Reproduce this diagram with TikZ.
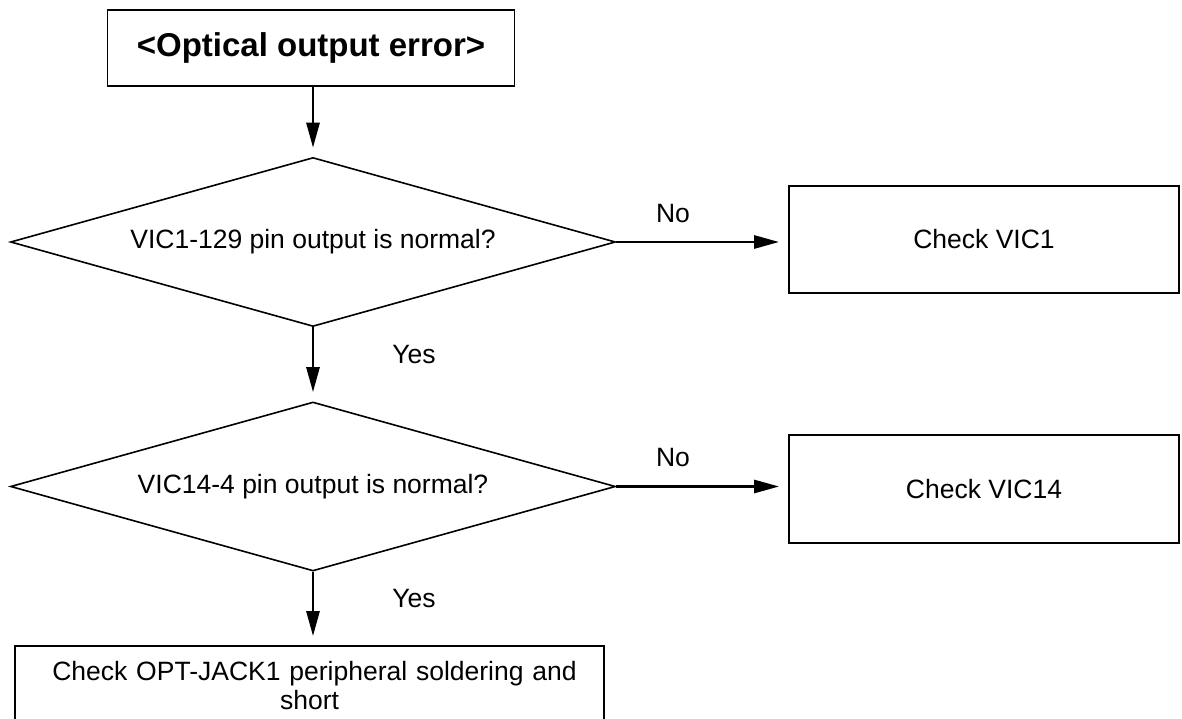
\documentclass[tikz,border=0pt]{standalone}
\usepackage{fontspec}
\setmainfont{Liberation Sans}
\usetikzlibrary{arrows.meta, positioning, shapes.geometric}

\begin{document}
\begin{tikzpicture}[
        x=1pt, y=-1pt,
        font=\fontsize{26.5}{29}\selectfont,
        box/.style={draw, line width=1.8pt, inner sep=0pt, align=center},
        decide/.style={draw, diamond, aspect=3.58, line width=1.6pt, inner sep=0pt, minimum width=605pt, minimum height=169pt},
        flow/.style={-{Triangle[length=25pt, width=13pt]}, line width=2.8pt, shorten >=9pt},
        lbl/.style={inner sep=0pt}
    ]
        \useasboundingbox (0,0) rectangle (1182,719);

        \node[box, minimum width=407pt, minimum height=76pt, font=\fontsize{33}{38}\selectfont\bfseries] (title) at (311,48) {<Optical output error>};
        \node[decide] (q1) at (313,242) {VIC1-129 pin output is normal?};
        \node[box, minimum width=390pt, minimum height=107pt] (chk1) at (984,239.5) {Check VIC1};
        \node[decide] (q2) at (313,486.5) {VIC14-4 pin output is normal?};
        \node[box, minimum width=390pt, minimum height=108pt] (chk14) at (984,489) {Check VIC14};
        \node[box, minimum width=589pt, minimum height=80pt, text width=570pt] (jack) at (309.5,686) {\hspace*{10pt}Check OPT-JACK1 peripheral soldering and\\short};

        \draw[flow] (title.south -| q1.north) -- (q1.north);
        \draw[flow] (q1.east) -- (q1.east -| chk1.west) node[lbl, pos=.33, above=18pt] {No};
        \draw[flow] (q1) -- (q2) node[lbl, midway, right=78pt, yshift=10pt] {Yes};
        \draw[flow] (q2.east) -- (q2.east -| chk14.west) node[lbl, pos=.33, above=18pt] {No};
        \draw[flow] (q2.south) -- (q2.south |- jack.north) node[lbl, midway, right=78pt, yshift=10pt] {Yes};
    \end{tikzpicture}
\end{document}
